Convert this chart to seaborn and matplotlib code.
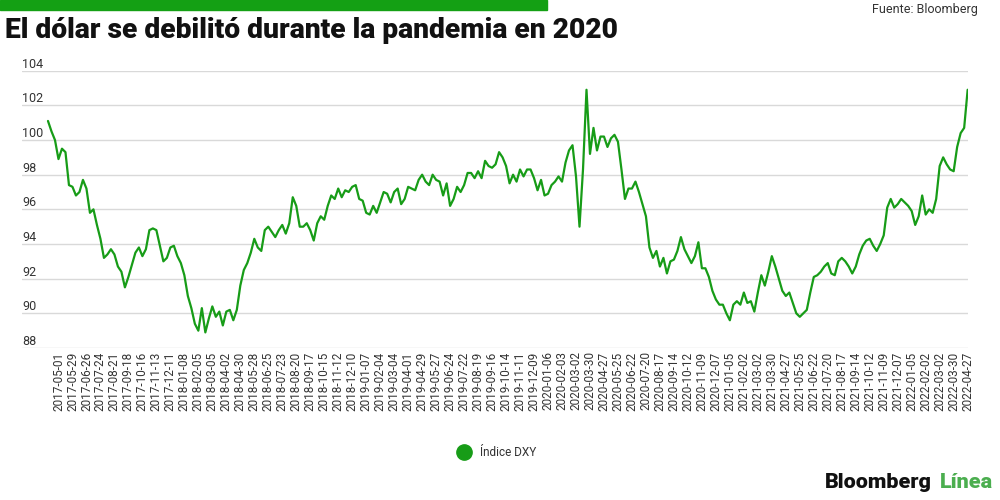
import numpy as np
import pandas as pd
import matplotlib
matplotlib.use("Agg")
import matplotlib.pyplot as plt
import seaborn as sns
from matplotlib.lines import Line2D

# Índice DXY, una lectura por semana (abr-2017 a abr-2022)
dxy = [
    101.1, 100.5, 100.0, 98.9, 99.5, 99.3, 97.4, 97.3, 96.8, 97.0,
    97.7, 97.2, 95.8, 96.0, 95.1, 94.3, 93.2, 93.4, 93.7, 93.4,
    92.7, 92.4, 91.5, 92.1, 92.8, 93.5, 93.8, 93.3, 93.7, 94.8,
    94.9, 94.8, 93.9, 93.0, 93.2, 93.8, 93.9, 93.3, 92.9, 92.2,
    91.0, 90.3, 89.4, 89.0, 90.3, 88.9, 89.7, 90.4, 89.8, 90.1,
    89.3, 90.1, 90.2, 89.6, 90.2, 91.6, 92.5, 92.9, 93.5, 94.3,
    93.8, 93.6, 94.8, 95.0, 94.7, 94.4, 94.8, 95.1, 94.6, 95.2,
    96.7, 96.2, 95.0, 95.0, 95.2, 94.8, 94.2, 95.2, 95.6, 95.4,
    96.2, 96.8, 96.6, 97.2, 96.7, 97.1, 97.0, 97.3, 97.4, 96.6,
    96.5, 95.8, 95.7, 96.2, 95.8, 96.4, 97.0, 96.9, 96.4, 97.0,
    97.2, 96.3, 96.6, 97.3, 97.2, 97.1, 97.7, 98.0, 97.6, 97.4,
    98.0, 97.7, 97.6, 96.8, 97.5, 96.2, 96.6, 97.3, 97.0, 97.4,
    98.1, 98.1, 97.8, 98.2, 97.8, 98.8, 98.5, 98.4, 98.6, 99.3,
    99.0, 98.5, 97.5, 98.0, 97.6, 98.3, 97.9, 98.3, 98.3, 97.8,
    97.1, 97.7, 96.8, 96.9, 97.4, 97.6, 97.9, 97.6, 98.7, 99.4,
    99.7, 97.9, 95.0, 98.3, 102.9, 99.2, 100.7, 99.4, 100.2, 100.2,
    99.6, 100.1, 100.3, 99.9, 98.3, 96.6, 97.2, 97.2, 97.6, 97.0,
    96.3, 95.6, 93.8, 93.2, 93.6, 92.7, 93.2, 92.3, 93.0, 93.1,
    93.6, 94.4, 93.7, 93.3, 92.9, 93.3, 94.1, 92.6, 92.6, 92.1,
    91.3, 90.8, 90.5, 90.5, 90.0, 89.6, 90.5, 90.7, 90.5, 91.2,
    90.6, 90.7, 90.1, 91.2, 92.2, 91.6, 92.4, 93.3, 92.7, 92.0,
    91.3, 91.0, 91.2, 90.6, 90.0, 89.8, 90.0, 90.2, 91.2, 92.1,
    92.2, 92.4, 92.7, 92.9, 92.3, 92.2, 93.0, 93.2, 93.0, 92.7,
    92.3, 92.7, 93.4, 93.9, 94.2, 94.3, 93.9, 93.6, 94.0, 94.5,
    96.1, 96.6, 96.1, 96.3, 96.6, 96.4, 96.2, 95.9, 95.1, 95.6,
    96.8, 95.7, 96.0, 95.8, 96.6, 98.5, 99.0, 98.6, 98.3, 98.2,
    99.6, 100.4, 100.7, 102.9,
]

fechas = [
    "2017-05-01", "2017-05-29", "2017-06-26", "2017-07-24", "2017-08-21",
    "2017-09-18", "2017-10-16", "2017-11-13", "2017-12-11",
    "2018-01-08", "2018-02-05", "2018-03-05", "2018-04-02", "2018-04-30",
    "2018-05-28", "2018-06-25", "2018-07-23", "2018-08-20", "2018-09-17",
    "2018-10-15", "2018-11-12", "2018-12-10",
    "2019-01-07", "2019-02-04", "2019-03-04", "2019-04-01", "2019-04-29",
    "2019-05-27", "2019-06-24", "2019-07-22", "2019-08-19", "2019-09-16",
    "2019-10-14", "2019-11-11", "2019-12-09",
    "2020-01-06", "2020-02-03", "2020-03-02", "2020-03-30", "2020-04-27",
    "2020-05-25", "2020-06-22", "2020-07-20", "2020-08-17", "2020-09-14",
    "2020-10-12", "2020-11-09", "2020-12-07",
    "2021-01-05", "2021-02-02", "2021-03-02", "2021-03-30", "2021-04-27",
    "2021-05-25", "2021-06-22", "2021-07-20", "2021-08-17", "2021-09-14",
    "2021-10-12", "2021-11-09", "2021-12-07",
    "2022-01-05", "2022-02-02", "2022-03-02", "2022-03-30", "2022-04-27",
]

y_ticks = [88, 90, 92, 94, 96, 98, 100, 102, 104]

verde = "#179c17"
verde_claro = "#4bae4f"
gris = "#333333"

sns.set_theme(style="white")
plt.rcParams["font.family"] = ["Roboto", "DejaVu Sans"]

df = pd.DataFrame({"semana": np.arange(len(dxy)), "dxy": dxy})

fig = plt.figure(figsize=(10, 5), dpi=100)
ax = fig.add_axes([0.022, 0.304, 0.946, 0.5546])

sns.lineplot(data=df, x="semana", y="dxy", color=verde, linewidth=1.6, ax=ax)

ax.set_xlim(-7.43, df["semana"].iloc[-1] + 0.1)
ax.set_ylim(88, 104)
ax.set_xlabel("")
ax.set_ylabel("")

# ticks cada 4 semanas
ax.set_xticks(df["semana"].values[3::4])
ax.set_xticklabels(fechas, rotation=90, fontsize=8.5, color=gris)
ax.set_yticks(y_ticks)
ax.set_yticklabels([str(v) for v in y_ticks], fontsize=9, color=gris)
for lab in ax.get_yticklabels():
    lab.set_ha("left")
    lab.set_va("bottom")
ax.tick_params(axis="y", length=0, pad=0)
ax.tick_params(axis="x", length=0, pad=2.5)

ax.yaxis.grid(True, color="#d9d9d9", linewidth=1)
ax.xaxis.grid(False)
sns.despine(ax=ax, left=True, bottom=True)

# barra verde superior
fig.patches.append(plt.Rectangle((0, 1 - 10 / 500), 0.547, 10 / 500,
                                 transform=fig.transFigure, color="#14a014"))

renderer = fig.canvas.get_renderer()


def ajustar_ancho(txt, ancho_px):
    w = txt.get_window_extent(renderer).width
    txt.set_fontsize(txt.get_fontsize() * ancho_px / w)


titulo = fig.text(0.005, 1 - 31 / 500, "El dólar se debilitó durante la pandemia en 2020",
                  fontsize=18, fontweight="black", color="#111111", va="center", ha="left")
ajustar_ancho(titulo, 613)

fig.text(0.978, 1 - 10 / 500, "Fuente: Bloomberg", fontsize=9, color=gris,
         ha="right", va="center")

handle = Line2D([], [], marker="o", linestyle="", color=verde, markersize=11)
fig.legend([handle], ["Índice DXY"], loc="center", bbox_to_anchor=(0.494, 0.094),
           frameon=False, fontsize=8.5, handletextpad=0.4, labelcolor=gris)

logo1 = fig.text(0.825, 1 - 483 / 500, "Bloomberg", fontsize=14, fontweight="black",
                 color="#111111", ha="left", va="center")
ajustar_ancho(logo1, 107)
logo2 = fig.text(0.940, 1 - 483 / 500, "Línea", fontsize=14, fontweight="black",
                 color=verde_claro, ha="left", va="center")
ajustar_ancho(logo2, 53)

fig.savefig("out.png", dpi=100)
